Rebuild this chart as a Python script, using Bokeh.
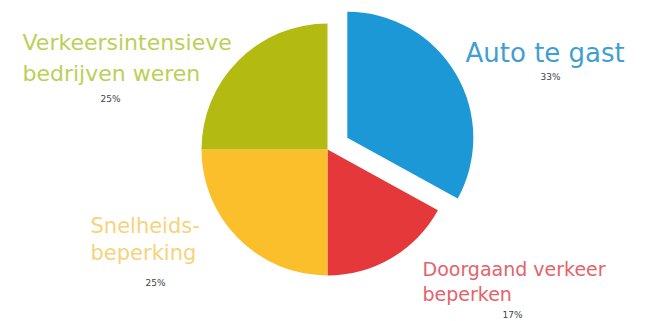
from bokeh.plotting import figure
from bokeh.models import Range1d, ColumnDataSource
from bokeh.core.properties import value
from bokeh.embed import file_html
from bokeh.resources import INLINE
import math

# data
categories = ["Auto te gast", "Doorgaand verkeer beperken", "Snelheids-beperking", "Verkeersintensieve bedrijven weren"]
values = [33, 17, 25, 25]
pct_labels = ["33%", "17%", "25%", "25%"]
label_lines = [["Auto te gast"], ["Doorgaand verkeer", "beperken"], ["Snelheids-", "beperking"], ["Verkeersintensieve", "bedrijven weren"]]

slice_colors = ["#1b98d5", "#e5383b", "#fbbf2c", "#b3bb12"]
label_colors = ["#3f9fd2", "#e3636b", "#f6d37c", "#bccf57"]

W, H = 659, 321
p = figure(width=W, height=H, output_backend="svg", toolbar_location=None,
           x_range=Range1d(0, W), y_range=Range1d(0, H), min_border=0)
p.axis.visible = False
p.grid.visible = False
p.outline_line_color = None
p.background_fill_color = "white"
p.border_fill_color = "white"

# geometry (page px -> data: x = px, y = H-py)
cx, cy = 327, H - 149
r = 126
explode = [23, 0, 0, 0]

total = sum(values)
xs, ys, sa, ea = [], [], [], []
cum = 0
for v, e in zip(values, explode):
    a0 = 90 - (cum + v) / total * 360
    a1 = 90 - cum / total * 360
    mid = math.radians((a0 + a1) / 2)
    xs.append(cx + e * math.cos(mid))
    ys.append(cy + e * math.sin(mid))
    sa.append(math.radians(a0))
    ea.append(math.radians(a1))
    cum += v

src = ColumnDataSource(dict(x=xs, y=ys, sa=sa, ea=ea, color=slice_colors))
p.wedge(x="x", y="y", radius=r, start_angle="sa", end_angle="ea",
        fill_color="color", line_color=None, source=src)

# label layout: (left x px, first line center y px, line spacing, font size, pct center x, pct y)
layout = [
    (465, 52, 0, "26px", 550, 76),
    (422, 268, 25, "19px", 512, 314),
    (90, 225, 27, "21px", 155, 282),
    (22, 42, 31, "22px", 110, 98),
]
for i, lines in enumerate(label_lines):
    lx, ly, sp, fs, px, py = layout[i]
    for j, t in enumerate(lines):
        p.text(x=[lx], y=[H - (ly + j * sp)], text=[t], text_font=value("DejaVu Sans"),
               text_font_size=fs, text_color=label_colors[i], text_baseline="middle",
               text_align="left")
    p.text(x=[px], y=[H - py], text=[pct_labels[i]], text_font=value("DejaVu Sans"),
           text_font_size="9px", text_color="#444444", text_baseline="middle",
           text_align="center")

open("out.html", "w").write(file_html(p, INLINE))
